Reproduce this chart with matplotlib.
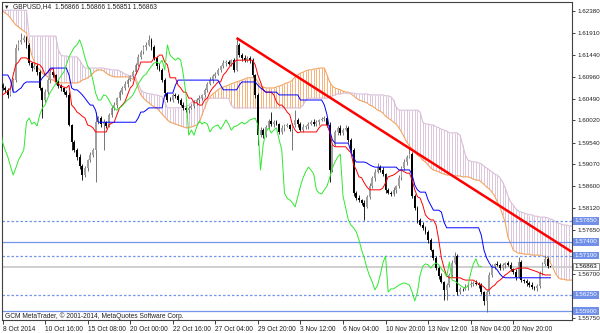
import matplotlib
matplotlib.use('Agg')
import matplotlib.pyplot as plt
import numpy as np

plt.rcParams['font.family'] = ['Liberation Sans', 'DejaVu Sans']

# GBPUSD H4 closes, one per bar from 8 Oct 2014 00:00
closes = [
    1.6072, 1.6068, 1.6057, 1.6068, 1.6089, 1.6158, 1.6171, 1.6176, 1.6180, 1.6165,
    1.6126, 1.6115, 1.6119, 1.6106, 1.6072, 1.6046, 1.6063, 1.6089, 1.6106, 1.6100,
    1.6085, 1.6076, 1.6072, 1.6063, 1.6057, 1.5992, 1.5955, 1.5938, 1.5923, 1.5903,
    1.5884, 1.5899, 1.5916, 1.5927, 1.5938, 1.5998, 1.6007, 1.5994, 1.5998, 1.5990,
    1.6014, 1.6029, 1.6035, 1.6050, 1.6063, 1.6072, 1.6081, 1.6089, 1.6098, 1.6106,
    1.6122, 1.6139, 1.6150, 1.6160, 1.6165, 1.6176, 1.6160, 1.6137, 1.6119, 1.6111,
    1.6089, 1.6061, 1.6046, 1.6046, 1.6057, 1.6055, 1.6046, 1.6035, 1.6029, 1.6024,
    1.6029, 1.6033, 1.6040, 1.6046, 1.6050, 1.6057, 1.6068, 1.6081, 1.6089, 1.6098,
    1.6102, 1.6111, 1.6119, 1.6126, 1.6128, 1.6124, 1.6132, 1.6111, 1.6165, 1.6143,
    1.6137, 1.6132, 1.6137, 1.6132, 1.6100, 1.6057, 1.5970, 1.5981, 1.5970, 1.5988,
    1.6001, 1.5994, 1.5998, 1.5994, 1.5977, 1.5986, 1.5990, 1.5992, 1.5983, 1.5992,
    1.6003, 1.5994, 1.5981, 1.5988, 1.5990, 1.5994, 1.5998, 1.5994, 1.5998, 1.6003,
    1.6005, 1.6007, 1.5992, 1.5895, 1.5949, 1.5977, 1.5986, 1.5975, 1.5981, 1.5986,
    1.5960, 1.5938, 1.5845, 1.5834, 1.5830, 1.5824, 1.5815, 1.5837, 1.5860, 1.5878,
    1.5891, 1.5901, 1.5895, 1.5886, 1.5852, 1.5845, 1.5843, 1.5852, 1.5860, 1.5878,
    1.5899, 1.5912, 1.5923, 1.5929, 1.5839, 1.5813, 1.5787, 1.5776, 1.5770, 1.5761,
    1.5744, 1.5722, 1.5705, 1.5683, 1.5666, 1.5653, 1.5636, 1.5646, 1.5668, 1.5694,
    1.5709, 1.5631, 1.5638, 1.5638, 1.5642, 1.5646, 1.5649, 1.5651, 1.5649, 1.5646,
    1.5631, 1.5612, 1.5631, 1.5668, 1.5687, 1.5692, 1.5690, 1.5683, 1.5690, 1.5694,
    1.5690, 1.5681, 1.5675, 1.5664, 1.5696, 1.5657, 1.5655, 1.5651, 1.5646, 1.5642,
    1.5640, 1.5644, 1.5672, 1.5692, 1.5703, 1.5687, 1.56863,
]
first_open = 1.6078

# shadows above / below the body, in pips
up_wick = [
    4, 5, 3, 6, 4, 10, 5, 15, 6, 4,
    5, 3, 6, 4, 5, 3, 6, 4, 5, 7,
    3, 4, 5, 3, 4, 6, 3, 5, 4, 6,
    4, 5, 3, 6, 4, 22, 5, 4, 6, 3,
    5, 4, 6, 3, 5, 4, 6, 5, 3, 4,
    5, 6, 4, 5, 6, 11, 4, 5, 3, 6,
    4, 5, 3, 6, 4, 5, 3, 4, 6, 5,
    3, 4, 5, 4, 6, 3, 5, 4, 6, 5,
    4, 5, 3, 6, 4, 5, 3, 4, 15, 5,
    4, 6, 3, 5, 4, 3, 5, 6, 4, 5,
    3, 19, 4, 5, 3, 6, 4, 5, 3, 4,
    22, 5, 4, 6, 3, 5, 4, 6, 5, 3,
    4, 5, 3, 6, 4, 5, 3, 6, 4, 5,
    4, 3, 5, 4, 6, 3, 5, 4, 6, 3,
    5, 9, 4, 6, 3, 5, 4, 6, 3, 5,
    4, 6, 5, 13, 4, 3, 5, 4, 6, 3,
    5, 4, 3, 5, 4, 6, 3, 5, 4, 6,
    9, 4, 5, 3, 6, 4, 5, 3, 6, 4,
    5, 3, 4, 6, 5, 3, 6, 4, 5, 3,
    4, 6, 3, 5, 10, 4, 3, 5, 4, 6,
    3, 5, 4, 5, 9, 3, 0,
]
down_wick = [
    5, 4, 6, 3, 5, 4, 3, 5, 4, 6,
    4, 6, 3, 5, 4, 39, 5, 3, 6, 4,
    5, 3, 6, 4, 5, 3, 17, 4, 6, 5,
    11, 4, 6, 3, 5, 69, 4, 6, 56, 4,
    3, 5, 4, 6, 3, 5, 4, 6, 3, 5,
    4, 3, 5, 4, 6, 3, 5, 4, 6, 3,
    5, 6, 4, 3, 5, 4, 6, 3, 5, 4,
    6, 3, 5, 4, 6, 3, 4, 5, 3, 6,
    4, 3, 5, 4, 6, 3, 5, 4, 3, 5,
    6, 4, 3, 5, 4, 6, 22, 4, 5, 3,
    5, 4, 6, 3, 5, 4, 6, 3, 5, 45,
    4, 6, 3, 5, 4, 6, 3, 5, 4, 6,
    3, 5, 4, 26, 5, 3, 6, 4, 5, 3,
    5, 4, 6, 3, 5, 4, 28, 3, 5, 4,
    6, 3, 5, 4, 6, 3, 5, 4, 6, 3,
    5, 4, 6, 3, 5, 4, 6, 3, 5, 4,
    6, 3, 5, 4, 6, 3, 22, 22, 4, 5,
    3, 6, 4, 5, 3, 6, 4, 5, 3, 6,
    4, 9, 24, 5, 4, 6, 3, 5, 4, 6,
    3, 5, 4, 6, 3, 5, 4, 6, 3, 5,
    4, 6, 3, 5, 4, 3, 1,
]

# Ichimoku lines
tenkan = [
    1.6057, 1.6061, 1.6065, 1.6072, 1.6100, 1.6122, 1.6128, 1.6137, 1.6137, 1.6137,
    1.6132, 1.6128, 1.6126, 1.6124, 1.6122, 1.6115, 1.6100, 1.6106, 1.6111, 1.6115,
    1.6085, 1.6081, 1.6076, 1.6074, 1.6072, 1.6078, 1.6035, 1.6029, 1.6020, 1.6016,
    1.6011, 1.6007, 1.5992, 1.5990, 1.5986, 1.5977, 1.5977, 1.5977, 1.5977, 1.5977,
    1.5992, 1.5996, 1.5998, 1.6014, 1.6029, 1.6035, 1.6042, 1.6057, 1.6072, 1.6078,
    1.6100, 1.6111, 1.6128, 1.6128, 1.6128, 1.6128, 1.6128, 1.6137, 1.6137, 1.6143,
    1.6143, 1.6128, 1.6122, 1.6094, 1.6094, 1.6094, 1.6078, 1.6072, 1.6063, 1.6063,
    1.6050, 1.6050, 1.6040, 1.6040, 1.6035, 1.6035, 1.6046, 1.6050, 1.6063, 1.6072,
    1.6078, 1.6085, 1.6085, 1.6100, 1.6106, 1.6115, 1.6122, 1.6128, 1.6132, 1.6132,
    1.6132, 1.6132, 1.6132, 1.6132, 1.6132, 1.6122, 1.6100, 1.6085, 1.6068, 1.6063,
    1.6063, 1.6063, 1.6057, 1.6042, 1.6035, 1.6035, 1.6029, 1.6020, 1.6014, 1.5992,
    1.5981, 1.5975, 1.5977, 1.5977, 1.5977, 1.5977, 1.5977, 1.5977, 1.5977, 1.5986,
    1.5992, 1.5992, 1.5992, 1.5977, 1.5949, 1.5945, 1.5945, 1.5945, 1.5945, 1.5945,
    1.5938, 1.5932, 1.5906, 1.5895, 1.5880, 1.5878, 1.5867, 1.5858, 1.5852, 1.5852,
    1.5852, 1.5852, 1.5852, 1.5856, 1.5867, 1.5880, 1.5882, 1.5884, 1.5888, 1.5893,
    1.5895, 1.5891, 1.5888, 1.5888, 1.5873, 1.5852, 1.5837, 1.5834, 1.5819, 1.5798,
    1.5791, 1.5787, 1.5787, 1.5776, 1.5744, 1.5705, 1.5683, 1.5666, 1.5662, 1.5662,
    1.5662, 1.5662, 1.5662, 1.5659, 1.5657, 1.5657, 1.5657, 1.5657, 1.5653, 1.5649,
    1.5646, 1.5642, 1.5636, 1.5636, 1.5642, 1.5646, 1.5653, 1.5657, 1.5662, 1.5668,
    1.5672, 1.5677, 1.5679, 1.5681, 1.5683, 1.5683, 1.5683, 1.5683, 1.5681, 1.5679,
    1.5677, 1.5675, 1.5672, 1.5670, 1.5668, 1.5668, 1.5668,
]
kijun = [
    1.6100, 1.6100, 1.6100, 1.6089, 1.6063, 1.6063, 1.6068, 1.6072, 1.6081, 1.6085,
    1.6085, 1.6085, 1.6085, 1.6085, 1.6085, 1.6094, 1.6100, 1.6106, 1.6115, 1.6115,
    1.6115, 1.6115, 1.6115, 1.6115, 1.6115, 1.6100, 1.6072, 1.6068, 1.6068, 1.6063,
    1.6057, 1.6050, 1.6042, 1.6035, 1.6035, 1.6024, 1.5998, 1.5998, 1.5998, 1.5998,
    1.5998, 1.5998, 1.5998, 1.5998, 1.5998, 1.5998, 1.5998, 1.5998, 1.5998, 1.5998,
    1.5998, 1.6007, 1.6020, 1.6020, 1.6024, 1.6029, 1.6029, 1.6029, 1.6029, 1.6029,
    1.6029, 1.6057, 1.6061, 1.6061, 1.6061, 1.6078, 1.6089, 1.6089, 1.6089, 1.6089,
    1.6089, 1.6089, 1.6089, 1.6089, 1.6089, 1.6089, 1.6089, 1.6089, 1.6089, 1.6089,
    1.6089, 1.6089, 1.6078, 1.6068, 1.6068, 1.6068, 1.6068, 1.6068, 1.6068, 1.6078,
    1.6085, 1.6085, 1.6085, 1.6085, 1.6085, 1.6085, 1.6078, 1.6072, 1.6068, 1.6063,
    1.6063, 1.6063, 1.6063, 1.6063, 1.6057, 1.6057, 1.6057, 1.6057, 1.6057, 1.6057,
    1.6057, 1.6057, 1.6046, 1.6046, 1.6046, 1.6046, 1.6046, 1.6046, 1.6046, 1.6046,
    1.6046, 1.6035, 1.6014, 1.5981, 1.5960, 1.5953, 1.5953, 1.5953, 1.5953, 1.5953,
    1.5953, 1.5934, 1.5921, 1.5912, 1.5912, 1.5912, 1.5912, 1.5910, 1.5906, 1.5903,
    1.5901, 1.5901, 1.5901, 1.5901, 1.5901, 1.5901, 1.5901, 1.5901, 1.5901, 1.5895,
    1.5895, 1.5895, 1.5895, 1.5895, 1.5884, 1.5862, 1.5852, 1.5847, 1.5847, 1.5847,
    1.5830, 1.5819, 1.5808, 1.5808, 1.5808, 1.5804, 1.5782, 1.5770, 1.5770, 1.5770,
    1.5770, 1.5770, 1.5770, 1.5770, 1.5770, 1.5770, 1.5770, 1.5770, 1.5770, 1.5770,
    1.5754, 1.5722, 1.5705, 1.5694, 1.5685, 1.5685, 1.5679, 1.5670, 1.5664, 1.5662,
    1.5662, 1.5662, 1.5662, 1.5662, 1.5662, 1.5662, 1.5662, 1.5662, 1.5662, 1.5662,
    1.5662, 1.5662, 1.5662, 1.5662, 1.5662, 1.5662, 1.5662,
]
# Senkou spans, first value sits one bar before the first candle
span_start = -1
span_a = [
    1.6240, 1.6238, 1.6234, 1.6230, 1.6223, 1.6215, 1.6208, 1.6204, 1.6199, 1.6195,
    1.6191, 1.6165, 1.6143, 1.6128, 1.6117, 1.6111, 1.6104, 1.6100, 1.6096, 1.6091,
    1.6089, 1.6085, 1.6085, 1.6083, 1.6083, 1.6083, 1.6083, 1.6083, 1.6083, 1.6083,
    1.6085, 1.6089, 1.6091, 1.6094, 1.6098, 1.6104, 1.6109, 1.6111, 1.6111, 1.6109,
    1.6104, 1.6100, 1.6098, 1.6096, 1.6096, 1.6096, 1.6096, 1.6096, 1.6096, 1.6094,
    1.6091, 1.6089, 1.6072, 1.6057, 1.6050, 1.6044, 1.6040, 1.6035, 1.6031, 1.6029,
    1.6022, 1.6016, 1.6009, 1.6003, 1.5998, 1.5996, 1.5994, 1.5992, 1.5990, 1.5988,
    1.5986, 1.5986, 1.5988, 1.5990, 1.5992, 1.5998, 1.6014, 1.6029, 1.6044, 1.6053,
    1.6059, 1.6063, 1.6068, 1.6072, 1.6074, 1.6076, 1.6078, 1.6081, 1.6083, 1.6085,
    1.6087, 1.6089, 1.6091, 1.6094, 1.6094, 1.6094, 1.6094, 1.6085, 1.6076, 1.6074,
    1.6072, 1.6072, 1.6072, 1.6072, 1.6074, 1.6076, 1.6078, 1.6081, 1.6083, 1.6085,
    1.6089, 1.6096, 1.6100, 1.6104, 1.6106, 1.6109, 1.6111, 1.6111, 1.6113, 1.6113,
    1.6115, 1.6115, 1.6115, 1.6100, 1.6085, 1.6076, 1.6072, 1.6070, 1.6068, 1.6065,
    1.6063, 1.6063, 1.6059, 1.6055, 1.6050, 1.6046, 1.6044, 1.6042, 1.6040, 1.6035,
    1.6033, 1.6029, 1.6024, 1.6022, 1.6018, 1.6011, 1.6007, 1.6003, 1.5998, 1.5994,
    1.5986, 1.5977, 1.5966, 1.5955, 1.5947, 1.5940, 1.5934, 1.5927, 1.5923, 1.5916,
    1.5912, 1.5906, 1.5899, 1.5895, 1.5893, 1.5891, 1.5888, 1.5886, 1.5884, 1.5884,
    1.5884, 1.5882, 1.5882, 1.5882, 1.5880, 1.5880, 1.5880, 1.5878, 1.5875, 1.5873,
    1.5873, 1.5869, 1.5864, 1.5858, 1.5854, 1.5847, 1.5839, 1.5826, 1.5815, 1.5798,
    1.5782, 1.5750, 1.5737, 1.5722, 1.5718, 1.5715, 1.5715, 1.5713, 1.5713, 1.5713,
    1.5711, 1.5711, 1.5711, 1.5711, 1.5709, 1.5707, 1.5705, 1.5694, 1.5683, 1.5670,
    1.5662, 1.5659, 1.5659, 1.5657, 1.5657, 1.5657,
]
span_b = [
    1.6240, 1.6240, 1.6240, 1.6240, 1.6240, 1.6240, 1.6240, 1.6240, 1.6240, 1.6240,
    1.6240, 1.6184, 1.6184, 1.6184, 1.6184, 1.6184, 1.6184, 1.6184, 1.6184, 1.6184,
    1.6184, 1.6184, 1.6154, 1.6143, 1.6141, 1.6141, 1.6139, 1.6139, 1.6139, 1.6139,
    1.6132, 1.6122, 1.6115, 1.6115, 1.6115, 1.6115, 1.6115, 1.6115, 1.6115, 1.6115,
    1.6113, 1.6113, 1.6111, 1.6111, 1.6111, 1.6109, 1.6106, 1.6102, 1.6100, 1.6098,
    1.6096, 1.6094, 1.6081, 1.6068, 1.6063, 1.6061, 1.6059, 1.6059, 1.6057, 1.6057,
    1.6055, 1.6053, 1.6042, 1.6029, 1.6029, 1.6029, 1.6029, 1.6029, 1.6029, 1.6031,
    1.6033, 1.6035, 1.6040, 1.6044, 1.6046, 1.6050, 1.6050, 1.6050, 1.6050, 1.6050,
    1.6050, 1.6050, 1.6050, 1.6050, 1.6050, 1.6050, 1.6050, 1.6035, 1.6029, 1.6029,
    1.6029, 1.6029, 1.6029, 1.6029, 1.6029, 1.6029, 1.6029, 1.6029, 1.6029, 1.6029,
    1.6029, 1.6029, 1.6029, 1.6029, 1.6029, 1.6029, 1.6029, 1.6029, 1.6029, 1.6029,
    1.6029, 1.6029, 1.6029, 1.6029, 1.6035, 1.6046, 1.6050, 1.6050, 1.6050, 1.6050,
    1.6050, 1.6050, 1.6050, 1.6050, 1.6053, 1.6055, 1.6057, 1.6059, 1.6059, 1.6061,
    1.6061, 1.6061, 1.6061, 1.6061, 1.6059, 1.6059, 1.6059, 1.6059, 1.6059, 1.6057,
    1.6057, 1.6057, 1.6057, 1.6057, 1.6057, 1.6055, 1.6055, 1.6053, 1.6046, 1.6031,
    1.6024, 1.6024, 1.6024, 1.6024, 1.6024, 1.6024, 1.6024, 1.6024, 1.6020, 1.5998,
    1.5994, 1.5994, 1.5992, 1.5992, 1.5988, 1.5986, 1.5983, 1.5981, 1.5979, 1.5975,
    1.5975, 1.5975, 1.5975, 1.5970, 1.5949, 1.5927, 1.5916, 1.5914, 1.5912, 1.5912,
    1.5910, 1.5908, 1.5903, 1.5899, 1.5895, 1.5891, 1.5886, 1.5884, 1.5878, 1.5869,
    1.5856, 1.5839, 1.5826, 1.5819, 1.5811, 1.5806, 1.5804, 1.5802, 1.5800, 1.5798,
    1.5798, 1.5795, 1.5795, 1.5793, 1.5793, 1.5793, 1.5791, 1.5789, 1.5787, 1.5782,
    1.5780, 1.5778, 1.5776, 1.5776, 1.5774, 1.5774,
]
chikou_shift = 26

date_bars = [0, 16, 32, 48, 64, 80, 96, 112, 128, 144, 160, 176, 192]
date_labels = ['8 Oct 2014', '10 Oct 16:00', '15 Oct 08:00', '20 Oct 00:00',
               '22 Oct 16:00', '27 Oct 04:00', '29 Oct 20:00', '3 Nov 12:00',
               '6 Nov 04:00', '10 Nov 20:00', '13 Nov 12:00', '18 Nov 04:00',
               '20 Nov 20:00']
# scale levels; the two hidden behind price boxes keep only their tick mark
price_ticks = [1.62380, 1.61910, 1.61440, 1.60960, 1.60490, 1.60020, 1.59540,
               1.59070, 1.58600, 1.58120, 1.57650, 1.57180, 1.56700, 1.56230,
               1.55750]
hidden_ticks = [1.57180, 1.56230]
solid_levels = [1.5740, 1.5590]
dashed_levels = [1.5785, 1.5710, 1.5625]
bid = 1.56863
trend_bars = [88, 214]
trend_prices = [1.6180, 1.5718]

c = np.array(closes)
o = np.r_[first_open, c[:-1]]
h = np.maximum(o, c) + np.array(up_wick) / 1e4
l = np.minimum(o, c) - np.array(down_wick) / 1e4
x = np.arange(len(c))

fig = plt.figure(figsize=(6, 3.33), dpi=100)
ax = fig.add_axes([2 / 600, 13 / 333, 570 / 600, 318 / 333])

# kumo: vertical hatch per bar between the spans
a = np.array(span_a)
b = np.array(span_b)
n = min(len(a), len(b))
a, b = a[:n], b[:n]
xs = np.arange(n) + span_start
bull_cloud = a >= b
ax.vlines(xs[bull_cloud], b[bull_cloud], a[bull_cloud], color='#f6b27a', lw=0.7, zorder=1)
ax.vlines(xs[~bull_cloud], a[~bull_cloud], b[~bull_cloud], color='#dcc6dc', lw=0.7, zorder=1)
ax.plot(xs, a, color='#f4a460', lw=0.8, zorder=2)
ax.plot(xs, b, color='#d8bfd8', lw=0.8, zorder=2)

# horizontal levels and bid line
lvl_col = '#7495ec'
for p in solid_levels:
    ax.axhline(p, color=lvl_col, lw=0.9, zorder=2)
for p in dashed_levels:
    ax.axhline(p, color=lvl_col, lw=0.9, ls=(0, (2, 1.6)), zorder=2)
ax.axhline(bid, color='#cfcfcf', lw=1.4, zorder=2)

# candles
bull = c > o
ax.vlines(x, l, h, colors=np.where(bull, '#606060', '#000000'), lw=0.6, zorder=3)
ax.bar(x, np.maximum(np.abs(c - o), 0.00004), bottom=np.minimum(o, c), width=0.7,
       color=np.where(bull, '#a0a0a0', '#000000'), lw=0, zorder=3)

# ichimoku lines
ax.plot(x, tenkan, color='#ff0000', lw=0.7, zorder=4)
ax.plot(x, kijun, color='#0000ff', lw=0.7, zorder=4)
ax.plot(x - chikou_shift, c, color='#2ee82e', lw=0.7, zorder=4)

# trend line
ax.plot(trend_bars, trend_prices, color='#ff0000', lw=1.8, zorder=5, solid_capstyle='butt')

ax.set_xlim(-0.19, 214.1)
ax.set_ylim(1.55708, 1.62577)

ax.yaxis.tick_right()
ax.set_yticks(price_ticks)
ax.set_yticklabels(['' if p in hidden_ticks else '%.5f' % p for p in price_ticks])
ax.tick_params(axis='y', direction='out', length=2.5, width=0.6, pad=1.2,
               labelsize=4.5, colors='#202020')
ax.set_xticks(date_bars)
ax.set_xticklabels(date_labels, ha='left')
ax.tick_params(axis='x', direction='out', length=3, width=0.6, pad=1.5,
               labelsize=4.8, colors='#202020')
for s in ax.spines.values():
    s.set_color('#404040')
    s.set_linewidth(0.8)

# price boxes on the right scale
for p in solid_levels + dashed_levels:
    ax.annotate('%.5f' % p, xy=(1, p), xycoords=('axes fraction', 'data'),
                xytext=(2.0, 0), textcoords='offset points', ha='left', va='center',
                fontsize=4.5, color='white', annotation_clip=False, zorder=10,
                bbox=dict(boxstyle='square,pad=0.22', fc='#6f8fe8', ec='none'))
ax.annotate('%.5f' % bid, xy=(1, bid), xycoords=('axes fraction', 'data'),
            xytext=(2.0, 0), textcoords='offset points', ha='left', va='center',
            fontsize=4.5, color='black', annotation_clip=False, zorder=10,
            bbox=dict(boxstyle='square,pad=0.22', fc='white', ec='#606060', lw=0.5))

fig.text(4 / 600, 1 - 7 / 333, '\u25bc', fontsize=4, va='center', color='#202020')
fig.text(13 / 600, 1 - 7 / 333, 'GBPUSD,H4  1.56866 1.56866 1.56851 1.56863',
         fontsize=4.8, va='center', color='#202020')
fig.text(5 / 600, 1 - 316 / 333, 'GCM MetaTrader, \u00a9 2001-2014, MetaQuotes Software Corp.',
         fontsize=4.8, va='center', color='#202020')

fig.savefig('out.png', dpi=100, facecolor='white')
